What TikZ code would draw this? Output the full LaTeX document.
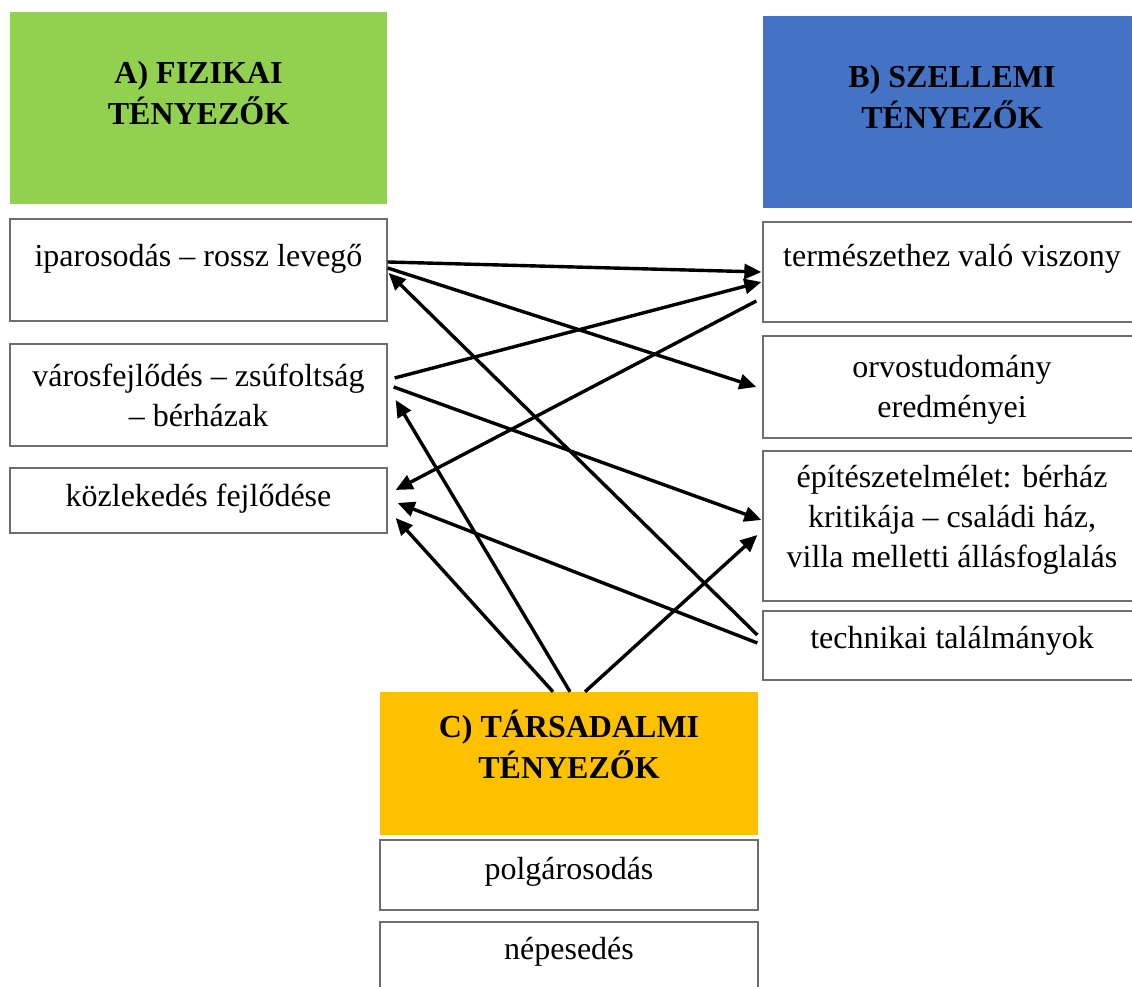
\documentclass[tikz,border=0pt]{standalone}
\usepackage{fontspec}
\setmainfont{Liberation Serif}
\usetikzlibrary{arrows.meta}
\definecolor{hgreen}{HTML}{92D050}
\definecolor{hblue}{HTML}{4472C4}
\definecolor{hgold}{HTML}{FFC000}
\definecolor{boxgray}{RGB}{110,110,110}
\begin{document}
\begin{tikzpicture}[x=1pt,y=1pt,
  box/.style={draw=boxgray, line width=1.3pt, inner sep=0pt, fill=white},
  headbox/.style={draw=none, inner sep=0pt},
  txt/.style={font=\fontsize{32}{40}\selectfont, align=center, inner sep=0pt, anchor=base},
  htxt/.style={font=\fontsize{32}{41}\selectfont\bfseries, align=center, inner sep=0pt, anchor=base},
  arr/.style={line width=3.4pt, -{Triangle[length=17pt,width=15pt]}}]
\useasboundingbox (0,0) rectangle (1132,987);
% headers
\node[headbox, fill=hgreen, minimum width=377, minimum height=192] (hA) at (198.5,879) {};
\node[headbox, fill=hblue, minimum width=379, minimum height=192] (hB) at (952.5,875) {};
\node[headbox, fill=hgold, minimum width=378, minimum height=143] (hC) at (569,223.5) {};
\node[htxt] (hAt) at (198.5,862) {A) FIZIKAI\\TÉNYEZŐK};
\node[htxt] (hBt) at (952,858) {B) SZELLEMI\\TÉNYEZŐK};
\node[htxt] (hCt) at (569,208) {C) TÁRSADALMI\\TÉNYEZŐK};
% left boxes
\node[box, minimum width=377, minimum height=102] (ipar) at (198.5,717) {};
\node[box, minimum width=377, minimum height=102] (varos) at (198.5,592) {};
\node[box, minimum width=377, minimum height=65] (kozl) at (198.5,486.5) {};
\node[txt] (ipart) at (198.5,720) {iparosodás – rossz levegő};
\node[txt] (varost) at (198.5,560) {városfejlődés – zsúfoltság\\– bérházak};
\node[txt] (kozlt) at (198.5,480) {közlekedés fejlődése};
% right boxes
\node[box, minimum width=379, minimum height=100] (term) at (952.5,715) {};
\node[box, minimum width=379, minimum height=102] (orvos) at (952.5,600) {};
\node[box, minimum width=379, minimum height=150] (epit) at (952.5,461) {};
\node[box, minimum width=379, minimum height=69] (tech) at (952.5,341.5) {};
\node[txt] (termt) at (952,720) {természethez való viszony};
\node[txt] (orvost) at (952,569) {orvostudomány\\eredményei};
\node[txt] (epitt) at (952,419) {építészetelmélet: bérház\\kritikája – családi ház,\\villa melletti állásfoglalás};
\node[txt] (techt) at (952,338) {technikai találmányok};
% bottom boxes
\node[box, minimum width=378, minimum height=70] (polg) at (569,112) {};
\node[box, minimum width=378, minimum height=80] (nep) at (569,25) {};
\node[txt] (polgt) at (569,107) {polgárosodás};
\node[txt] (nept) at (569,27) {népesedés};
% arrows
\draw[arr] ([yshift=8]ipar.east) -- ([xshift=-1]term.west);
\draw[arr] ([yshift=2]ipar.east) -- ([xshift=-6]orvos.west);
\draw[arr] ([xshift=7,yshift=17]varos.east) -- ([xshift=-1,yshift=-10]term.west);
\draw[arr] ([xshift=-6,yshift=-29]term.west) -- ([xshift=8,yshift=10.5]kozl.east);
\draw[arr] ([xshift=6,yshift=8]varos.east) -- ([xshift=-1,yshift=6]epit.west);
\draw[arr] ([xshift=-5,yshift=10.5]tech.west) -- ([xshift=1,yshift=-3]ipar.east);
\draw[arr] ([xshift=1]hC.north) -- ([xshift=8,yshift=-5]varos.east);
\draw[arr] ([xshift=-5,yshift=2.5]tech.west) -- ([xshift=10,yshift=-2.5]kozl.east);
\draw[arr] ([xshift=-16]hC.north) -- ([xshift=8,yshift=-17.5]kozl.east);
\draw[arr] ([xshift=16]hC.north) -- ([xshift=-5,yshift=-9]epit.west);
\end{tikzpicture}
\end{document}
